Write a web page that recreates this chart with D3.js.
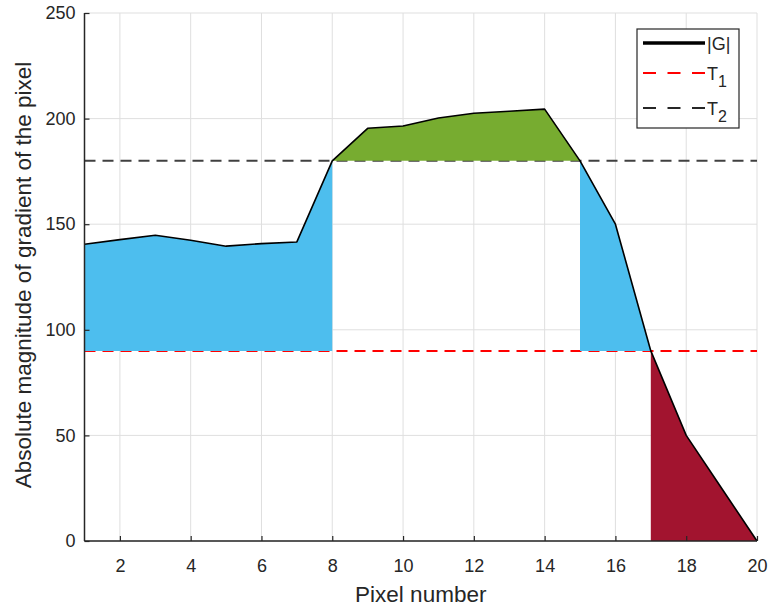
<!DOCTYPE html>
<html>
<head>
<meta charset="utf-8">
<script src="https://cdn.jsdelivr.net/npm/d3@7"></script>
<style>
  body { margin: 0; background: #fff; }
  svg text { font-family: "Liberation Sans", Arial, sans-serif; fill: #262626; }
</style>
</head>
<body>
<svg id="chart" width="770" height="610"></svg>
<script>
// pixel index and gradient magnitude |G|
const pixels = [1, 2, 3, 4, 5, 6, 7, 8, 9, 10, 11, 12, 13, 14, 15, 16, 17, 18, 19, 20];
const gradient = [140.5, 142.7, 144.8, 142.4, 139.6, 140.8, 141.6, 180, 195.4, 196.5, 200.3, 202.5, 203.5, 204.5, 180, 150, 90, 50, 25, 0];
const thresholdLow = 90;   // T1
const thresholdHigh = 180; // T2
const xTicks = [2, 4, 6, 8, 10, 12, 14, 16, 18, 20];
const yTicks = [0, 50, 100, 150, 200, 250];

const margin = {top: 13, right: 13, bottom: 69, left: 84.5};
const width = 770 - margin.left - margin.right;
const height = 610 - margin.top - margin.bottom;

const svg = d3.select("#chart");
const g = svg.append("g").attr("transform", "translate(" + margin.left + "," + margin.top + ")");

const x = d3.scaleLinear().domain([1, 20]).range([0, width]);
const y = d3.scaleLinear().domain([0, 250]).range([height, 0]);

const points = pixels.map((p, i) => ({x: p, y: gradient[i]}));

// grid
g.append("g")
  .selectAll("line.vg").data(xTicks).enter().append("line")
  .attr("x1", d => x(d)).attr("x2", d => x(d))
  .attr("y1", 0).attr("y2", height)
  .attr("stroke", "#dfdfdf").attr("stroke-width", 1);
g.append("g")
  .selectAll("line.hg").data(yTicks).enter().append("line")
  .attr("x1", 0).attr("x2", width)
  .attr("y1", d => y(d)).attr("y2", d => y(d))
  .attr("stroke", "#dfdfdf").attr("stroke-width", 1);

// threshold lines (drawn under the fills)
function hline(val, color) {
  g.append("line")
    .attr("x1", 0).attr("x2", width)
    .attr("y1", y(val)).attr("y2", y(val))
    .attr("stroke", color).attr("stroke-width", 2)
    .attr("stroke-dasharray", "11,7");
}
hline(thresholdLow, "#ff0000");
hline(thresholdHigh, "#404040");

// filled regions
function band(from, to, base, color) {
  const seg = points.filter(d => d.x >= from && d.x <= to);
  const area = d3.area()
    .x(d => x(d.x))
    .y0(y(base))
    .y1(d => y(d.y));
  g.append("path").datum(seg)
    .attr("d", area)
    .attr("fill", color);
}
band(1, 8, thresholdLow, "#4dbeee");
band(15, 17, thresholdLow, "#4dbeee");
band(8, 15, thresholdHigh, "#77ac30");
band(17, 20, 0, "#a2142f");

// |G| line
g.append("path").datum(points)
  .attr("d", d3.line().x(d => x(d.x)).y(d => y(d.y)))
  .attr("fill", "none").attr("stroke", "#000").attr("stroke-width", 1.6)
  .attr("stroke-linejoin", "round");

// axes
const xAxis = d3.axisBottom(x).tickValues(xTicks).tickSize(-5).tickPadding(18);
const yAxis = d3.axisLeft(y).tickValues(yTicks).tickSize(-5).tickPadding(9);

const gx = g.append("g").attr("transform", "translate(0," + height + ")").call(xAxis);
const gy = g.append("g").call(yAxis);
[gx, gy].forEach(a => {
  a.select(".domain").attr("stroke", "#262626").attr("stroke-width", 1.5);
  a.selectAll(".tick line").attr("stroke", "#262626").attr("stroke-width", 1.2);
  a.selectAll(".tick text").attr("font-size", 18).attr("fill", "#333")
    .style("font-family", "'Liberation Sans', Arial, sans-serif");
});
gx.select(".domain").attr("d", "M0,0H" + width);
gy.select(".domain").attr("d", "M0," + height + "V0");

// axis labels
g.append("text")
  .attr("x", width / 2).attr("y", height + 61)
  .attr("text-anchor", "middle").attr("font-size", 22.5)
  .text("Pixel number");
g.append("text")
  .attr("transform", "translate(" + (-54) + "," + (height / 2 - 2) + ") rotate(-90)")
  .attr("text-anchor", "middle").attr("font-size", 22.5)
  .text("Absolute magnitude of gradient of the pixel");

// legend
const legend = svg.append("g").attr("transform", "translate(637,29)");
legend.append("rect")
  .attr("width", 102).attr("height", 99)
  .attr("fill", "#fff").attr("stroke", "#262626").attr("stroke-width", 1.2);
const entries = [
  {label: "|G|", sub: "", color: "#000", dash: null, width: 3.5, y: 14},
  {label: "T", sub: "1", color: "#ff0000", dash: "13,11.5", width: 2, y: 44},
  {label: "T", sub: "2", color: "#262626", dash: "13,11.5", width: 2, y: 79}
];
entries.forEach(e => {
  legend.append("line")
    .attr("x1", 6).attr("x2", 68).attr("y1", e.y).attr("y2", e.y)
    .attr("stroke", e.color).attr("stroke-width", e.width)
    .attr("stroke-dasharray", e.dash);
  const t = legend.append("text").attr("x", 70).attr("y", e.y + 6.5).attr("font-size", 18);
  t.append("tspan").text(e.label);
  if (e.sub) t.append("tspan").attr("dy", 7).attr("font-size", 16).text(e.sub);
});
</script>
</body>
</html>
